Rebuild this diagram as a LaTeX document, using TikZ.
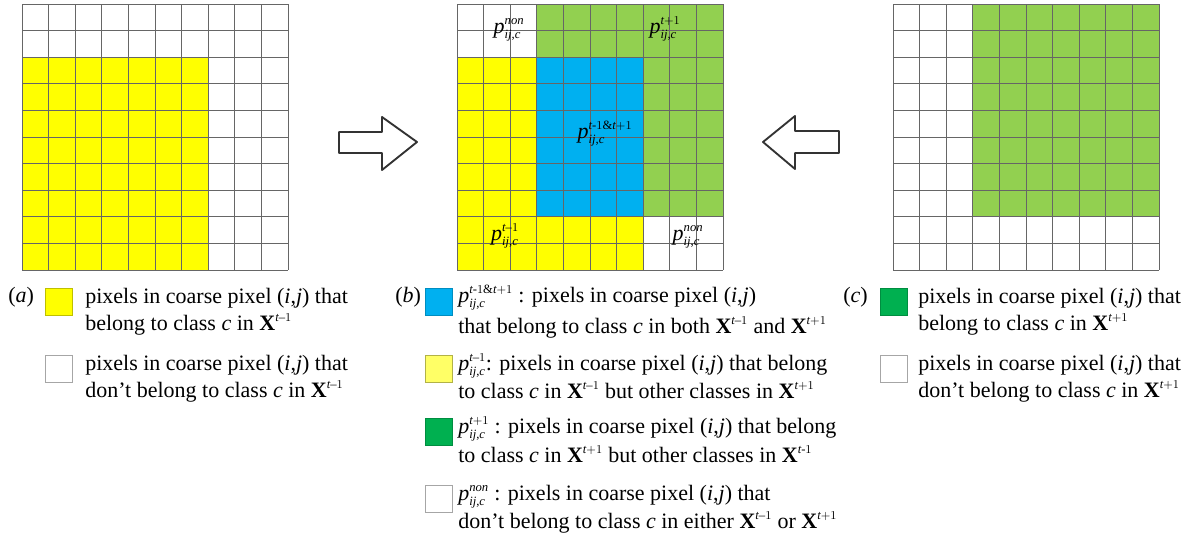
\documentclass[tikz,border=0pt]{standalone}
\usepackage{amsmath}
\usepackage{fontspec}
\setmainfont{Liberation Serif}
\usepackage[italic]{mathastext}
\usepackage{tikz}
\DeclareMathSizes{16.5}{16.5}{9.5}{7}

\definecolor{cellyellow}{HTML}{FFFF00}
\definecolor{cellblue}{HTML}{00B0F0}
\definecolor{cellgreen}{HTML}{92D050}
\definecolor{keygreen}{HTML}{00B050}
\definecolor{keyyellow}{HTML}{FFFF66}

\begin{document}
\begin{tikzpicture}[x=0.75pt, y=-0.75pt,
  txt/.style={anchor=base west, inner sep=0pt, font=\fontsize{16.5}{20}\selectfont},
  lbl/.style={anchor=base, inner sep=0pt, font=\fontsize{16.5}{20}\selectfont},
  gridline/.style={draw=black!60, line width=0.6pt},
  swatch/.style={draw=black!35, line width=0.5pt, minimum size=20.25pt, inner sep=0pt, anchor=north west},
  bigarrow/.style={draw=black!80, line width=1.4pt, fill=white, line join=round}]
  \useasboundingbox (0,0) rectangle (1197,540);

  % (a) coarse pixel at t-1
  \begin{scope}[shift={(22,4)}]
    \fill[cellyellow] (0,53.2) rectangle (186.2,266);
    \foreach \k in {0,...,10} {
      \draw[gridline] (\k*26.6,0) -- (\k*26.6,266);
      \draw[gridline] (0,\k*26.6) -- (266,\k*26.6);
    }
  \end{scope}

  % (b) overlay of both dates
  \begin{scope}[shift={(457,4)}]
    \fill[cellyellow] (0,53.2) rectangle (79.8,266);
    \fill[cellyellow] (79.8,212.8) rectangle (186.2,266);
    \fill[cellgreen] (79.8,0) rectangle (186.2,53.2);
    \fill[cellgreen] (186.2,0) rectangle (266,212.8);
    \fill[cellblue] (79.8,53.2) rectangle (186.2,212.8);
    \foreach \k in {0,...,10} {
      \draw[gridline] (\k*26.6,0) -- (\k*26.6,266);
      \draw[gridline] (0,\k*26.6) -- (266,\k*26.6);
    }
  \end{scope}
  \node[lbl] (pnonA) at (509,33) {$p^{non}_{ij,c}$};
  \node[lbl] (pnext) at (665,33) {$p^{t+1}_{ij,c}$};
  \node[lbl] (pboth) at (605,138) {$p^{t\text{-}1\&t+1}_{ij,c}$};
  \node[lbl] (pprev) at (505,240) {$p^{t-1}_{ij,c}$};
  \node[lbl] (pnonB) at (688,240) {$p^{non}_{ij,c}$};

  % (c) coarse pixel at t+1
  \begin{scope}[shift={(893,4)}]
    \fill[cellgreen] (79.8,0) rectangle (266,212.8);
    \foreach \k in {0,...,10} {
      \draw[gridline] (\k*26.6,0) -- (\k*26.6,266);
      \draw[gridline] (0,\k*26.6) -- (266,\k*26.6);
    }
  \end{scope}

  % block arrows
  \draw[bigarrow] (339,132) -- (382,132) -- (382,117) -- (417,142)
    -- (382,170) -- (382,153) -- (339,153) -- cycle;
  \draw[bigarrow] (839,131) -- (795,131) -- (795,116) -- (763,142)
    -- (795,169) -- (795,153) -- (839,153) -- cycle;

  % legend (a)
  \node[txt] (tagA) at (8,302) {(\textit{a})};
  \node[swatch, fill=cellyellow, draw=cellyellow!75!black] (keyA1) at (45,288) {};
  \node[txt] (keyA1a) at (85,303) {pixels in coarse pixel (\textit{i},\textit{j}) that};
  \node[txt] (keyA1b) at (85,330) {belong to class $c$ in $\mathbf{X}^{t-1}$};
  \node[swatch, fill=white] (keyA2) at (45,355) {};
  \node[txt] (keyA2a) at (85,370) {pixels in coarse pixel (\textit{i},\textit{j}) that};
  \node[txt] (keyA2b) at (85,397) {don't belong to class $c$ in $\mathbf{X}^{t-1}$};

  % legend (b)
  \node[txt] (tagB) at (395,302) {(\textit{b})};
  \node[swatch, fill=cellblue, draw=cellblue!80!black] (keyB1) at (425,288) {};
  \node[txt] (keyB1a) at (458,302) {$p^{t\text{-}1\&t+1}_{ij,c}$ : pixels in coarse pixel (\textit{i},\textit{j})};
  \node[txt] (keyB1b) at (458,333) {that belong to class $c$ in both $\mathbf{X}^{t-1}$ and $\mathbf{X}^{t+1}$};
  \node[swatch, fill=keyyellow, draw=keyyellow!70!black] (keyB2) at (425,355) {};
  \node[txt] (keyB2a) at (458,370) {$p^{t-1}_{ij,c}$: pixels in coarse pixel (\textit{i},\textit{j}) that belong};
  \node[txt] (keyB2b) at (458,398) {to class $c$ in $\mathbf{X}^{t-1}$ but other classes in $\mathbf{X}^{t+1}$};
  \node[swatch, fill=keygreen, draw=keygreen!80!black] (keyB3) at (425,418) {};
  \node[txt] (keyB3a) at (458,433) {$p^{t+1}_{ij,c}$ : pixels in coarse pixel (\textit{i},\textit{j}) that belong};
  \node[txt] (keyB3b) at (458,462) {to class $c$ in $\mathbf{X}^{t+1}$ but other classes in $\mathbf{X}^{t\text{-}1}$};
  \node[swatch, fill=white] (keyB4) at (425,485) {};
  \node[txt] (keyB4a) at (458,500) {$p^{non}_{ij,c}$ : pixels in coarse pixel (\textit{i},\textit{j}) that};
  \node[txt] (keyB4b) at (458,528) {don't belong to class $c$ in either $\mathbf{X}^{t-1}$ or $\mathbf{X}^{t+1}$};

  % legend (c)
  \node[txt] (tagC) at (843,302) {(\textit{c})};
  \node[swatch, fill=keygreen, draw=keygreen!80!black] (keyC1) at (880,288) {};
  \node[txt] (keyC1a) at (918,303) {pixels in coarse pixel (\textit{i},\textit{j}) that};
  \node[txt] (keyC1b) at (918,330) {belong to class $c$ in $\mathbf{X}^{t+1}$};
  \node[swatch, fill=white] (keyC2) at (880,355) {};
  \node[txt] (keyC2a) at (918,370) {pixels in coarse pixel (\textit{i},\textit{j}) that};
  \node[txt] (keyC2b) at (918,397) {don't belong to class $c$ in $\mathbf{X}^{t+1}$};
\end{tikzpicture}
\end{document}
